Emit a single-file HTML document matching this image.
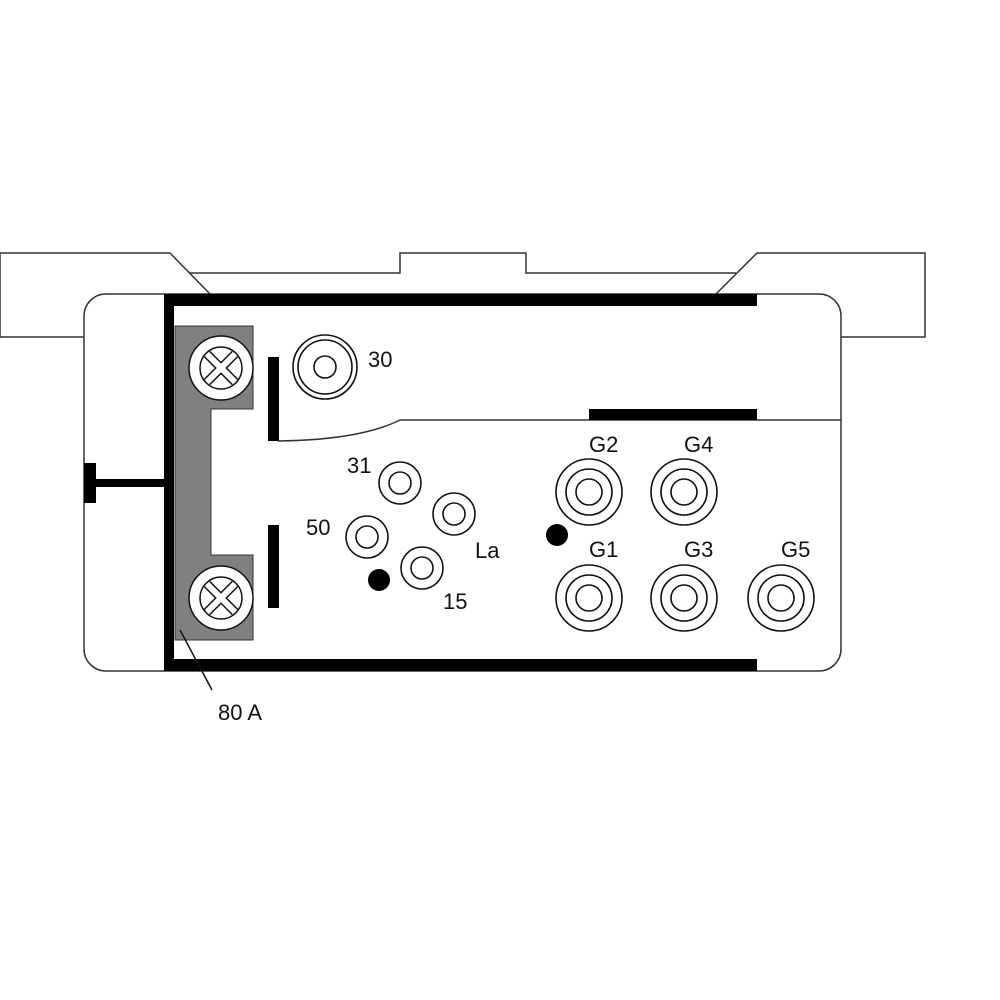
<!DOCTYPE html>
<html><head><meta charset="utf-8"><style>
html,body{margin:0;padding:0;background:#fff}
svg{display:block}
text{font-family:"Liberation Sans",Arial,sans-serif;font-size:22px;fill:#111}
</style></head><body>
<svg width="1000" height="1000" viewBox="0 0 1000 1000" xmlns="http://www.w3.org/2000/svg">
<g fill="none" stroke="#333" stroke-width="1.5">
  <path d="M84,337 H0 V253 H170 L210,294"/>
  <path d="M190,273 H400 V253 H526 V273 H736"/>
  <path d="M716,294 L757,253 H925 V337 H841"/>
  <rect x="84" y="294" width="757" height="377" rx="22" fill="#fff"/>
  <path d="M841,420 H400 Q360,440 278,441"/>
</g>
<path d="M175,326 H253 V409 H211 V555 H253 V640 H175 Z" fill="#808080" stroke="#333" stroke-width="1"/>
<rect x="164" y="294" width="10" height="377" fill="#000"/>
<rect x="164" y="294" width="593" height="12" fill="#000"/>
<rect x="164" y="659" width="593" height="12" fill="#000"/>
<rect x="589" y="409" width="168" height="11" fill="#000"/>
<rect x="268" y="357" width="11" height="84" fill="#000"/>
<rect x="268" y="525" width="11" height="83" fill="#000"/>
<rect x="96" y="479" width="68" height="8" fill="#000"/>
<rect x="84" y="463" width="12" height="40" fill="#000"/>
<g stroke="#111" stroke-width="1.5" fill="#fff">
  <circle cx="221" cy="368" r="32"/>
  <circle cx="221" cy="368" r="21"/>
  <path d="M207,354 L235,382 M235,354 L207,382" stroke-width="9" stroke="#111"/>
  <path d="M207,354 L235,382 M235,354 L207,382" stroke-width="6" stroke="#fff"/>
  <circle cx="221" cy="598" r="32"/>
  <circle cx="221" cy="598" r="21"/>
  <path d="M207,584 L235,612 M235,584 L207,612" stroke-width="9" stroke="#111"/>
  <path d="M207,584 L235,612 M235,584 L207,612" stroke-width="6" stroke="#fff"/>
</g>
<g stroke="#111" stroke-width="1.6" fill="#fff">
  <circle cx="325" cy="367" r="32"/><circle cx="325" cy="367" r="27"/><circle cx="325" cy="367" r="11"/>
  <circle cx="400" cy="483" r="21"/><circle cx="400" cy="483" r="11"/>
  <circle cx="454" cy="514" r="21"/><circle cx="454" cy="514" r="11"/>
  <circle cx="367" cy="537" r="21"/><circle cx="367" cy="537" r="11"/>
  <circle cx="422" cy="568" r="21"/><circle cx="422" cy="568" r="11"/>
  <circle cx="589" cy="492" r="33"/><circle cx="589" cy="492" r="23"/><circle cx="589" cy="492" r="13"/>
  <circle cx="684" cy="492" r="33"/><circle cx="684" cy="492" r="23"/><circle cx="684" cy="492" r="13"/>
  <circle cx="589" cy="598" r="33"/><circle cx="589" cy="598" r="23"/><circle cx="589" cy="598" r="13"/>
  <circle cx="684" cy="598" r="33"/><circle cx="684" cy="598" r="23"/><circle cx="684" cy="598" r="13"/>
  <circle cx="781" cy="598" r="33"/><circle cx="781" cy="598" r="23"/><circle cx="781" cy="598" r="13"/>
</g>
<circle cx="379" cy="580" r="11" fill="#000"/>
<circle cx="557" cy="535" r="11" fill="#000"/>
<line x1="180" y1="630" x2="212" y2="690" stroke="#111" stroke-width="1.5"/>
<text x="368" y="367">30</text>
<text x="347" y="473">31</text>
<text x="306" y="535">50</text>
<text x="475" y="558">La</text>
<text x="443" y="609">15</text>
<text x="589" y="452">G2</text>
<text x="684" y="452">G4</text>
<text x="589" y="557">G1</text>
<text x="684" y="557">G3</text>
<text x="781" y="557">G5</text>
<text x="218" y="720">80 A</text>
</svg>
</body></html>
